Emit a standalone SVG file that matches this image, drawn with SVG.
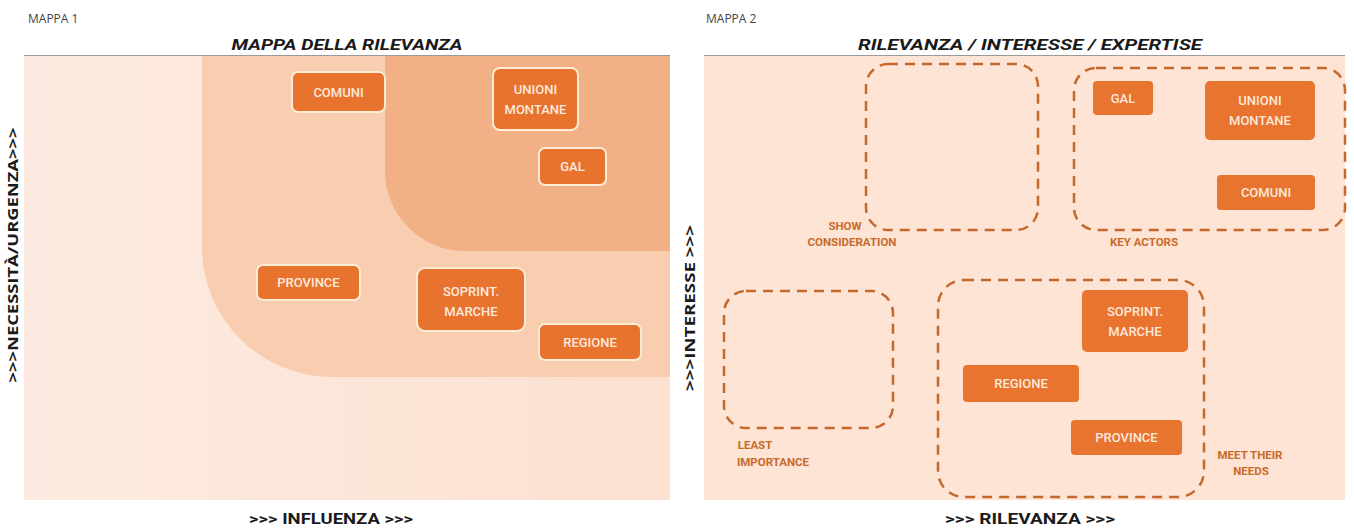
<svg xmlns="http://www.w3.org/2000/svg" width="1354" height="530" viewBox="0 0 1354 530">
<style>
.cap{font-family:"Open Sans","Liberation Sans",sans-serif;font-size:12px;fill:#444}
.title{font-family:"Roboto","Liberation Sans",sans-serif;font-weight:bold;font-style:italic;font-size:15px;fill:#1a1a1a;text-anchor:middle}
.axis{font-family:"Roboto","Liberation Sans",sans-serif;font-weight:bold;font-size:14px;fill:#1a1a1a;text-anchor:middle}
.vaxis{font-family:"Open Sans","Liberation Sans",sans-serif;font-weight:bold;font-size:14px;fill:#1a1a1a;text-anchor:middle}
.node1{fill:#e8732f;stroke:#fdecd6;stroke-width:2}
.node2{fill:#e8742f}
.nt{font-family:"Roboto","Liberation Sans",sans-serif;font-weight:500;font-size:13px;fill:#fde9dc;text-anchor:middle}
.dash{fill:none;stroke:#c4682c;stroke-width:2.5;stroke-dasharray:10 7}
.lab{font-family:"Roboto","Liberation Sans",sans-serif;font-weight:bold;font-size:11.5px;fill:#c96a2a;text-anchor:middle}
.rule{stroke:#9a9a9a;stroke-width:1}
</style>
<defs>
<linearGradient id="lg" x1="0" y1="0" x2="1" y2="0">
<stop offset="0" stop-color="#fdebe1"/>
<stop offset="1" stop-color="#fce0d0"/>
</linearGradient>
</defs>
<rect width="1354" height="530" fill="#ffffff"/>

<g id="mappa1">
<text class="cap" x="28" y="23">MAPPA 1</text>
<text class="title" x="347" y="50" textLength="231" lengthAdjust="spacingAndGlyphs">MAPPA DELLA RILEVANZA</text>
<line class="rule" x1="24" y1="55.5" x2="670" y2="55.5"/>
<rect x="24" y="56" width="646" height="444" fill="url(#lg)"/>
<path d="M202,56 H670 V377 H332 A130,130 0 0 1 202,247 Z" fill="#f8cdb0"/>
<path d="M385,56 H670 V251 H465 A80,80 0 0 1 385,171 Z" fill="#f1b086"/>
<text class="vaxis" transform="translate(18,255) rotate(-90)" textLength="255" lengthAdjust="spacingAndGlyphs">&gt;&gt;&gt;NECESSITÀ/URGENZA&gt;&gt;&gt;</text>
<text class="axis" x="331" y="524" textLength="164" lengthAdjust="spacingAndGlyphs">&gt;&gt;&gt; INFLUENZA &gt;&gt;&gt;</text>
</g>

<g id="m1-comuni"><rect class="node1" x="292" y="72" width="93" height="40" rx="6"/><text class="nt" x="338.5" y="97">COMUNI</text></g>
<g id="m1-unioni"><rect class="node1" x="493" y="68" width="85" height="62" rx="7"/><text class="nt" x="535.5" y="94">UNIONI</text><text class="nt" x="535.5" y="114">MONTANE</text></g>
<g id="m1-gal"><rect class="node1" x="539" y="148" width="67" height="37" rx="6"/><text class="nt" x="572.5" y="171">GAL</text></g>
<g id="m1-province"><rect class="node1" x="257" y="265" width="103" height="35" rx="6"/><text class="nt" x="308.5" y="287">PROVINCE</text></g>
<g id="m1-soprint"><rect class="node1" x="417" y="268" width="108" height="63" rx="8"/><text class="nt" x="471" y="296">SOPRINT.</text><text class="nt" x="471" y="316">MARCHE</text></g>
<g id="m1-regione"><rect class="node1" x="539" y="324" width="102" height="36" rx="6"/><text class="nt" x="590" y="347">REGIONE</text></g>

<g id="mappa2">
<text class="cap" x="706" y="23">MAPPA 2</text>
<text class="title" x="1030" y="50" textLength="344" lengthAdjust="spacingAndGlyphs">RILEVANZA / INTERESSE / EXPERTISE</text>
<line class="rule" x1="704" y1="55.5" x2="1345" y2="55.5"/>
<rect x="704" y="56" width="641" height="444" fill="#fde4d5"/>
<text class="vaxis" transform="translate(695,308) rotate(-90)" textLength="166" lengthAdjust="spacingAndGlyphs">&gt;&gt;&gt;INTERESSE &gt;&gt;&gt;</text>
<text class="axis" x="1030" y="524" textLength="170" lengthAdjust="spacingAndGlyphs">&gt;&gt;&gt; RILEVANZA &gt;&gt;&gt;</text>
</g>

<g id="g-show"><rect class="dash" x="866" y="64" width="172" height="166" rx="22"/><text class="lab" x="845" y="230">SHOW</text><text class="lab" x="852" y="246">CONSIDERATION</text></g>
<g id="g-key"><rect class="dash" x="1074" y="68" width="271" height="162" rx="22"/><text class="lab" x="1144" y="246">KEY ACTORS</text></g>
<g id="g-least"><rect class="dash" x="724" y="291" width="169" height="137" rx="22"/><text class="lab" x="755" y="449">LEAST</text><text class="lab" x="773" y="466">IMPORTANCE</text></g>
<g id="g-meet"><rect class="dash" x="938" y="280" width="266" height="217" rx="26"/><text class="lab" x="1250" y="459">MEET THEIR</text><text class="lab" x="1251" y="475">NEEDS</text></g>

<g id="m2-gal"><rect class="node2" x="1093" y="81" width="60" height="34" rx="4"/><text class="nt" x="1123" y="103">GAL</text></g>
<g id="m2-unioni"><rect class="node2" x="1205" y="81" width="110" height="59" rx="5"/><text class="nt" x="1260" y="105">UNIONI</text><text class="nt" x="1260" y="125">MONTANE</text></g>
<g id="m2-comuni"><rect class="node2" x="1217" y="175" width="98" height="35" rx="4"/><text class="nt" x="1266" y="197">COMUNI</text></g>
<g id="m2-soprint"><rect class="node2" x="1082" y="290" width="106" height="62" rx="5"/><text class="nt" x="1135" y="316">SOPRINT.</text><text class="nt" x="1135" y="336">MARCHE</text></g>
<g id="m2-regione"><rect class="node2" x="963" y="365" width="116" height="37" rx="4"/><text class="nt" x="1021" y="388">REGIONE</text></g>
<g id="m2-province"><rect class="node2" x="1071" y="420" width="111" height="35" rx="4"/><text class="nt" x="1126.5" y="442">PROVINCE</text></g>

<g id="connectors"></g>
</svg>
